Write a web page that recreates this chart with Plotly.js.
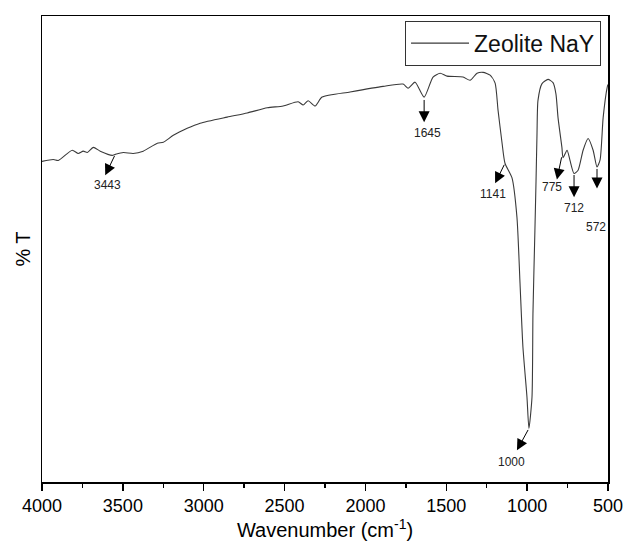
<!DOCTYPE html>
<html>
<head>
<meta charset="utf-8">
<script src="https://cdn.plot.ly/plotly-3.0.1.min.js"></script>
<style>html,body{margin:0;padding:0;background:#fff;}#chart{width:625px;height:547px;}</style>
</head>
<body>
<div id="chart"></div>
<script>
// FTIR spectrum of Zeolite NaY (arbitrary %T units)
const wavenumber = [4000,3930,3899,3813,3776,3745,3720,3683,3640,3566,3547,3498,3436,3374,3287,3250,3188,3102,3022,2855,2731,2607,2509,2416,2385,2354,2311,2268,2095,1891,1767,1736,1693,1637,1582,1538,1495,1396,1353,1310,1272,1229,1198,1180,1155,1137,1094,1063,1044,1026,1001,989,970,964,952,945,939,933,908,871,840,822,809,785,778,753,735,710,685,654,623,592,568,549,530,505,500];
const transmittance = [68.8,69.2,69.0,71.2,70.5,71.0,70.7,71.8,71.0,70.1,70.3,70.7,70.5,71.0,72.7,72.9,74.4,75.9,77.0,78.3,79.2,80.3,80.7,81.6,80.9,81.8,80.7,82.6,83.7,84.9,85.4,84.5,85.8,82.6,86.9,87.7,87.1,86.9,86.2,87.7,87.9,87.3,85.6,79.8,72.7,68.4,65.3,56.8,42.6,28.9,18.2,11.5,18.2,36.2,54.0,64.7,74.8,81.9,85.5,86.4,85.7,83.3,78.2,71.8,69.6,71.2,69.0,66.2,66.9,71.2,73.7,71.2,67.6,69.1,78.2,84.7,85.3];

// peak labels: label text, arrow tail on curve (x,y), arrow head (x,y), label position (x,y)
const peakLabels = ["3443","1645","1141","1000","775","712","572"];
const tailX = [3547,1637,1137,989,785,710,568];
const tailY = [70.3,82.3,68.4,11.5,70.0,66.2,67.5];
const headX = [3609,1637,1198,1063,816,710,568];
const headY = [65.8,77.2,64.1,6.8,64.9,61.1,63.0];
const labelX = [3597,1619,1211,1094,846,710,574];
const labelY = [63.8,75.0,61.7,4.2,63.3,58.9,54.8];

const annotations = [];
for (let i = 0; i < peakLabels.length; i++) {
  annotations.push({
    x: headX[i], y: headY[i], xref: 'x', yref: 'y',
    ax: tailX[i], ay: tailY[i], axref: 'x', ayref: 'y',
    text: '', showarrow: true, arrowhead: 2, arrowsize: 2.2, arrowwidth: 1, arrowcolor: '#000',
    standoff: 0, startstandoff: 0
  });
  annotations.push({
    x: labelX[i], y: labelY[i], xref: 'x', yref: 'y',
    text: peakLabels[i], showarrow: false,
    font: {family: 'Liberation Sans, Arial, sans-serif', size: 12, color: '#222'}
  });
}

const trace = {
  x: wavenumber, y: transmittance, type: 'scatter', mode: 'lines',
  name: 'Zeolite NaY',
  line: {color: '#3a3a3a', width: 1.1, shape: 'spline', smoothing: 0.6}
};

const layout = {
  width: 625, height: 547,
  margin: {l: 42, r: 17, t: 16, b: 65},
  paper_bgcolor: '#fff', plot_bgcolor: '#fff',
  font: {family: 'Liberation Sans, Arial, sans-serif', color: '#000'},
  showlegend: true,
  legend: {
    x: 0.9877, y: 0.99, xanchor: 'right', yanchor: 'top',
    bordercolor: '#333', borderwidth: 1, bgcolor: '#fff',
    itemwidth: 58, tracegroupgap: 0,
    font: {size: 23, color: '#111'}
  },
  xaxis: {
    range: [4000, 500], autorange: false,
    tickmode: 'linear', tick0: 500, dtick: 500,
    ticks: 'outside', ticklen: 7, tickwidth: 1.5, tickcolor: '#000',
    minor: {ticks: 'outside', ticklen: 4, tickwidth: 1.5, tickcolor: '#000', dtick: 250, tick0: 500},
    showline: true, linecolor: '#000', linewidth: 1.5, mirror: true,
    showgrid: false, zeroline: false,
    tickfont: {size: 18},
    title: {text: 'Wavenumber (cm<sup>-1</sup>)', font: {size: 20}, standoff: 4}
  },
  yaxis: {
    range: [0, 100], autorange: false,
    showticklabels: false, ticks: '',
    showline: true, linecolor: '#000', linewidth: 1.5, mirror: true,
    showgrid: false, zeroline: false,
    title: {text: '% T', font: {size: 20}, standoff: 4}
  },
  annotations: annotations
};

Plotly.newPlot('chart', [trace], layout, {displayModeBar: false, staticPlot: true});
</script>
</body>
</html>
